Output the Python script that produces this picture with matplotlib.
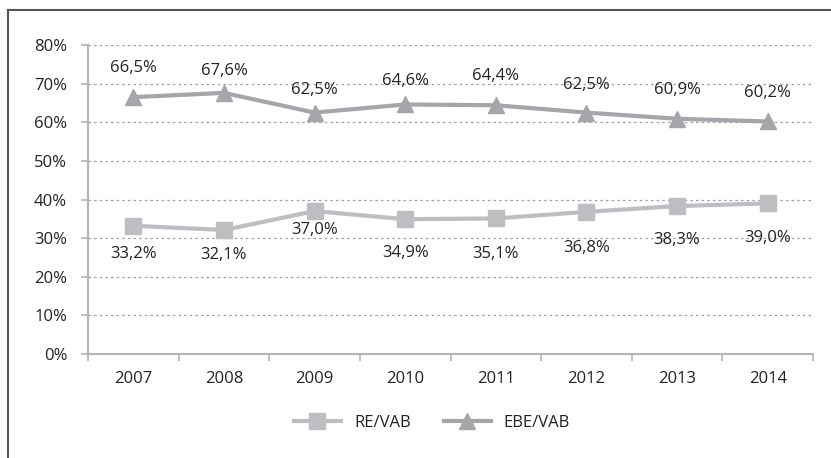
import matplotlib.pyplot as plt
import numpy as np
from matplotlib.lines import Line2D
from matplotlib.ticker import FuncFormatter

plt.rcParams['font.family'] = ['Open Sans', 'DejaVu Sans']

years = ['2007', '2008', '2009', '2010', '2011', '2012', '2013', '2014']
re_vab = [33.2, 32.1, 37.0, 34.9, 35.1, 36.8, 38.3, 39.0]
ebe_vab = [66.5, 67.6, 62.5, 64.6, 64.4, 62.5, 60.9, 60.2]

# vertical distance (pixels) of each data label from its point, as placed in the original
re_label_dy = [-28, -25, -19, -34, -36, -36, -34, -35]
ebe_label_dy = [29, 22, 23, 23, 29, 28, 29, 28]

re_color = '#bebec2'
ebe_color = '#a6a6aa'
text_color = '#222222'
axis_color = '#b3b3b3'
fs = 12

fig = plt.figure(figsize=(8.31, 4.58), dpi=100)
ax = fig.add_axes([88 / 831, 1 - 354 / 458, 725 / 831, (354 - 45) / 458])

x = np.arange(len(years))
ax.plot(x, re_vab, color=re_color, lw=3, marker='s', ms=11, mec=re_color, mfc=re_color, zorder=3)
ax.plot(x, ebe_vab, color=ebe_color, lw=3, marker='^', ms=12, mec=ebe_color, mfc=ebe_color, zorder=3)

px = 72 / fig.dpi
for i in x:
    ax.annotate(f'{re_vab[i]:.1f}%'.replace('.', ','), (i, re_vab[i]), xytext=(0, re_label_dy[i] * px),
                textcoords='offset points', ha='center', va='center', fontsize=fs, color=text_color)
    ax.annotate(f'{ebe_vab[i]:.1f}%'.replace('.', ','), (i, ebe_vab[i]), xytext=(0, ebe_label_dy[i] * px),
                textcoords='offset points', ha='center', va='center', fontsize=fs, color=text_color)

ax.set_xlim(-0.5, len(years) - 0.5)
ax.set_ylim(0, 80)
ax.set_yticks(np.arange(0, 81, 10))
ax.yaxis.set_major_formatter(FuncFormatter(lambda v, p: f'{v:.0f}%'))
ax.set_xticks(x)
ax.set_xticklabels(years)
ax.set_xticks(np.arange(-0.5, len(years), 1), minor=True)
ax.tick_params(axis='x', which='major', length=0, pad=12, labelsize=fs, labelcolor=text_color)
ax.tick_params(axis='x', which='minor', length=5, color=axis_color, width=1.2)
ax.tick_params(axis='y', length=5, color=axis_color, width=1.2, pad=10, labelsize=fs, labelcolor=text_color)

ax.grid(axis='y', linestyle=(0, (2, 2.5)), color='#a0a0a0', lw=0.9)
ax.set_axisbelow(True)
for side in ['top', 'right']:
    ax.spines[side].set_visible(False)
for side in ['left', 'bottom']:
    ax.spines[side].set_color(axis_color)
    ax.spines[side].set_linewidth(1.5)

handles = [
    Line2D([], [], color=re_color, lw=3, marker='s', ms=11, mec=re_color, mfc=re_color),
    Line2D([], [], color=ebe_color, lw=3, marker='^', ms=12, mec=ebe_color, mfc=ebe_color),
]
fig.legend(handles, ['RE/VAB', 'EBE/VAB'], loc='center', bbox_to_anchor=(432 / 831, 1 - 423 / 458),
           ncol=2, frameon=False, fontsize=fs, handlelength=2.8, columnspacing=2.0,
           labelcolor=text_color)

# cropped frame around the chart
fig.add_artist(Line2D([8 / 831, 8 / 831], [0, 1 - 10 / 458], transform=fig.transFigure, color='#555555', lw=1.5))
fig.add_artist(Line2D([8 / 831, 1], [1 - 10 / 458, 1 - 10 / 458], transform=fig.transFigure, color='#555555', lw=1.5))

fig.savefig('out.png', dpi=100)
